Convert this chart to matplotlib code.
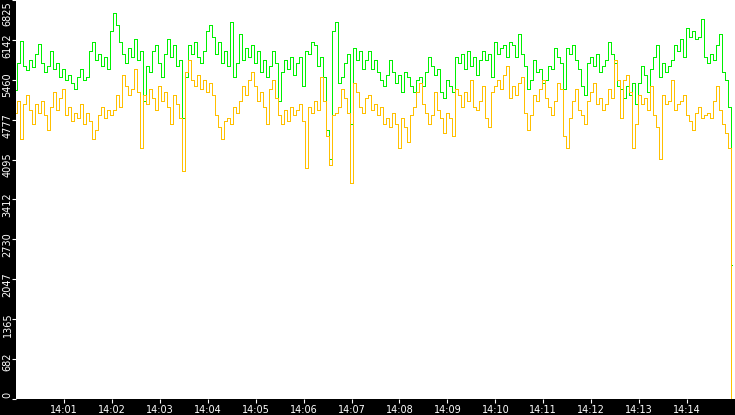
import numpy as np
import matplotlib
matplotlib.use("Agg")
import matplotlib.pyplot as plt
import matplotlib.transforms as mtransforms

# sample interval 3.75 s, starting 14:00:00
green = [
5290,5750,6130,5700,5620,5800,5680,5900,6080,5750,5600,5700,5950,5650,5750,5500,5650,5450,5550,5400,
5300,5500,5650,5450,5500,5950,6100,5800,5900,5700,5850,5650,6300,6600,6400,6100,5900,5750,6000,5850,
6150,5800,5950,5100,5700,5600,5950,6050,5750,5500,5900,6150,5850,6050,5700,5800,4800,5500,6050,5900,
6100,5850,5750,5950,6300,6400,6200,5900,6100,5750,5950,5700,6450,5500,5750,6250,5800,6000,5850,6050,
5750,5950,5600,5800,5500,5700,5950,5750,5100,5600,5800,5650,5850,5550,5750,5850,5350,5950,5900,6100,
6050,5700,5850,5500,4600,4100,6300,6450,5400,5500,5750,5900,4700,6000,5800,5950,5650,5800,5950,5650,
5800,5600,5450,5350,5550,5800,5600,5400,5550,5250,5600,5500,5350,5250,5450,5500,5350,5600,5850,5700,
5550,5650,5250,5150,5450,5350,5250,5850,5750,5900,5650,5950,5700,5850,5550,5800,5950,5800,5900,5500,
6100,5900,6000,6050,5850,6100,6050,5850,6250,5900,5700,5300,5450,5800,5600,5650,5400,5450,5700,5650,
6000,5850,5750,5300,6000,5900,6050,5800,5650,5350,5200,5750,5850,5700,5900,5600,5700,5800,6100,5900,
5750,5350,5300,5150,5350,5200,5400,5050,5400,5700,5550,5250,5650,5850,6050,5500,5750,5600,5700,5800,
6050,5950,6150,5850,6350,6200,6300,6150,6200,6500,5850,5750,5900,5800,6050,6250,5600,5450,5000,2300,
]
yellow = [
4900,5100,4450,5050,5200,4950,4700,5050,4900,5100,4850,4600,5000,5250,4950,5150,5300,4850,5000,4750,
4900,4800,5050,4700,4900,4750,4450,4600,4850,5000,4800,4950,4850,4950,5200,5000,5550,5350,5200,5300,
5650,5250,4300,5200,5050,5300,5150,4950,5350,5100,5250,5000,4700,5200,5050,4800,3900,5600,5800,5450,
5350,5550,5300,5450,5250,5400,5200,4850,4650,4450,4750,4800,4700,5000,4900,5100,5350,5200,5450,5600,
5350,5100,5250,5000,4700,5300,5450,5150,4850,4700,4950,4750,5000,4850,4950,5050,4750,3950,5000,4900,
5100,4950,5500,5100,4500,4000,4850,4900,5000,5300,5150,4900,3700,5400,5250,5000,4900,5150,5200,4950,
5050,4850,5000,4700,4800,4650,4900,4700,4300,4800,4650,4400,4850,5000,5250,5400,5050,4900,4700,4850,
5250,4950,4800,4550,4900,4800,4500,5300,5200,5000,5250,5100,5450,5000,4950,5100,5350,4800,4650,5250,
5350,5450,5300,5550,5700,5150,5350,5200,5400,5500,4900,4600,4850,5200,5100,5300,5450,5150,5000,4850,
5100,5400,5300,4500,4300,4800,5100,5300,4950,4850,4700,5100,5250,5400,5050,5150,4950,5050,5300,5150,
5800,5450,4800,5450,5550,5250,4300,4700,5200,5050,5150,4950,5350,4850,4650,4100,5200,5050,5100,5450,
4950,5050,5100,5200,4850,4750,4600,4900,5000,4800,4850,4900,4800,5100,5350,4950,4700,4550,4300,0,
]
tick_minutes = list(range(1, 15))
x_tick_labels = ["14:%02d" % m for m in tick_minutes]
y_max = 6825
y_tick_values = [i * 682.5 for i in range(11)]
y_tick_labels = ["0", "682", "1365", "2047", "2730", "3412", "4095", "4777", "5460", "6142", "6825"]
sample_seconds = 3.75

W, H = 735, 415
fig = plt.figure(figsize=(W / 100, H / 100), dpi=100, facecolor="black")
L, B, R, T = 16, 16, 735, 415
ax = fig.add_axes([L / W, B / H, (R - L) / W, (T - B) / H])
ax.set_facecolor("white")
for s in ax.spines.values():
    s.set_visible(False)

t = np.arange(len(green)) * sample_seconds / 60.0
ax.plot(t, green, color="#00F000", lw=0.6, antialiased=False, drawstyle="steps-mid", zorder=2)
ax.plot(t, yellow, color="#FFC000", lw=0.6, antialiased=False, drawstyle="steps-mid", zorder=3)

ax.set_xlim(0, 15)
ax.set_ylim(0, y_max)

ax.set_xticks(tick_minutes)
ax.set_xticklabels(x_tick_labels, color="white", fontsize=7, family="DejaVu Sans")
ax.tick_params(axis="x", direction="out", length=3, width=0.8, color="white", pad=1.5)

ax.set_yticks(y_tick_values)
ax.set_yticklabels([])
ax.tick_params(axis="y", direction="out", length=3.2, width=0.8, color="white")

blend = mtransforms.blended_transform_factory(ax.transAxes, ax.transData)
for v, lab in zip(y_tick_values, y_tick_labels):
    off = 7 if v < y_max - 1 else -1
    tr = mtransforms.offset_copy(blend, fig=fig, x=0, y=off, units="dots")
    ax.text((10.5 - L) / (R - L), v, lab, transform=tr, rotation=90,
            rotation_mode="anchor", ha="right", va="baseline",
            color="white", fontsize=7, family="DejaVu Sans", clip_on=False)

fig.savefig("out.png", dpi=100, facecolor="black")
